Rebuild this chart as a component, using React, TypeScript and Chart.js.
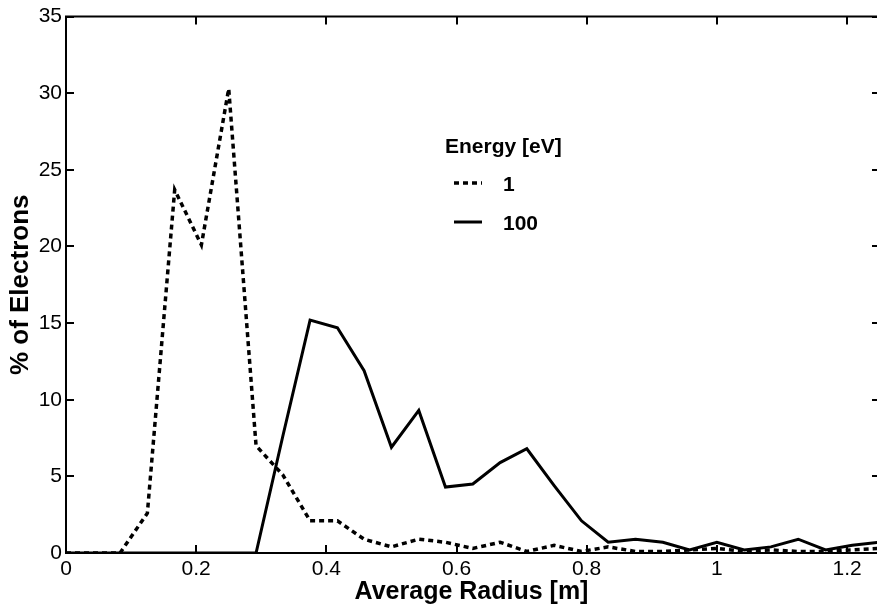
import React, { useEffect, useRef } from "react";
import { Chart, registerables } from "chart.js";

Chart.register(...registerables);

const radius = [
  0, 0.042, 0.083, 0.125, 0.167, 0.208, 0.25, 0.292, 0.333, 0.375, 0.417,
  0.458, 0.5, 0.542, 0.583, 0.625, 0.667, 0.708, 0.75, 0.792, 0.833, 0.875,
  0.917, 0.958, 1.0, 1.042, 1.083, 1.125, 1.167, 1.208, 1.25,
];
const energy1 = [
  0, 0, 0, 2.6, 23.7, 20.1, 30.3, 7.0, 5.1, 2.1, 2.1, 0.9, 0.4, 0.9, 0.7, 0.3,
  0.7, 0.1, 0.5, 0.1, 0.4, 0.1, 0.1, 0.2, 0.3, 0.1, 0.2, 0.1, 0.1, 0.2, 0.3,
];
const energy100 = [
  0, 0, 0, 0, 0, 0, 0, 0, 7.6, 15.2, 14.7, 11.9, 6.9, 9.3, 4.3, 4.5, 5.9, 6.8,
  4.4, 2.1, 0.7, 0.9, 0.7, 0.2, 0.7, 0.2, 0.4, 0.9, 0.2, 0.5, 0.7,
];
const seriesLabels = ["1", "100"];
const legendTitle = "Energy [eV]";
const xTicks = [0, 0.2, 0.4, 0.6, 0.8, 1, 1.2];
const xTickLabels = ["0", "0.2", "0.4", "0.6", "0.8", "1", "1.2"];
const yTicks = [0, 5, 10, 15, 20, 25, 30, 35];
const yTickLabels = ["0", "5", "10", "15", "20", "25", "30", "35"];

const FONT = "'Liberation Sans', Arial, Helvetica, sans-serif";

const framePlugin = {
  id: "frame",
  afterDraw(chart: any) {
    const { ctx, chartArea, scales } = chart;
    const { left, right, top, bottom } = chartArea;
    const x = scales.x;
    const y = scales.y;
    ctx.save();
    ctx.strokeStyle = "#000";
    ctx.lineWidth = 2;
    ctx.lineCap = "butt";
    ctx.beginPath();
    ctx.moveTo(left - 1, top);
    ctx.lineTo(right, top);
    const L = 8;
    x.ticks.forEach((t: any) => {
      const px = Math.round(x.getPixelForValue(t.value));
      ctx.moveTo(px, bottom);
      ctx.lineTo(px, bottom - L);
      ctx.moveTo(px, top);
      ctx.lineTo(px, top + L);
    });
    y.ticks.forEach((t: any) => {
      const py = Math.round(y.getPixelForValue(t.value));
      ctx.moveTo(left, py);
      ctx.lineTo(left + L, py);
      ctx.moveTo(right - 5, py);
      ctx.lineTo(right, py);
    });
    ctx.stroke();

    // legend
    const lx = 445;
    ctx.fillStyle = "#000";
    ctx.textBaseline = "alphabetic";
    ctx.textAlign = "left";
    ctx.font = `bold 21px ${FONT}`;
    ctx.fillText(legendTitle, lx, 153);
    const rows = [183, 222];
    chart.data.datasets.forEach((ds: any, i: number) => {
      const yy = rows[i];
      ctx.beginPath();
      ctx.lineWidth = ds.borderWidth;
      ctx.setLineDash(ds.borderDash || []);
      ctx.moveTo(454, yy);
      ctx.lineTo(482, yy);
      ctx.stroke();
      ctx.setLineDash([]);
      ctx.fillText(ds.label, 503, yy + 8);
    });
    ctx.restore();
  },
};

export default function App() {
  const ref = useRef<HTMLCanvasElement>(null);
  useEffect(() => {
    document.body.style.margin = "0";
    const canvas = ref.current!;
    const chart = new Chart(canvas, {
      type: "line",
      data: {
        datasets: [
          {
            label: seriesLabels[0],
            data: radius.map((r, i) => ({ x: r, y: energy1[i] })),
            borderColor: "#000",
            borderWidth: 3.5,
            borderDash: [5, 4],
            pointRadius: 0,
            tension: 0,
            fill: false,
          },
          {
            label: seriesLabels[1],
            data: radius.map((r, i) => ({ x: r, y: energy100[i] })),
            borderColor: "#000",
            borderWidth: 3,
            pointRadius: 0,
            tension: 0,
            fill: false,
          },
        ],
      },
      options: {
        animation: false,
        responsive: false,
        layout: { padding: { top: 16, right: 0, left: 0, bottom: 0 } },
        plugins: {
          legend: { display: false },
          tooltip: { enabled: false },
        },
        scales: {
          x: {
            type: "linear",
            min: 0,
            max: 1.246,
            grid: { display: false, drawTicks: false, tickLength: 0 },
            border: { display: true, color: "#000", width: 2 },
            afterBuildTicks: (s: any) => {
              s.ticks = xTicks.map((v) => ({ value: v }));
            },
            afterFit: (s: any) => {
              s.height = 54;
            },
            ticks: {
              color: "#000",
              padding: 4,
              maxRotation: 0,
              autoSkip: false,
              font: { family: FONT, size: 21 },
              callback: (v: any) => xTickLabels[xTicks.indexOf(Number(v))] ?? "",
            },
            title: {
              display: true,
              text: "Average Radius [m]",
              color: "#000",
              font: { family: FONT, size: 25, weight: "bold" },
              padding: { top: 0, bottom: 0 },
            },
          },
          y: {
            type: "linear",
            min: 0,
            max: 35,
            grid: { display: false, drawTicks: false, tickLength: 0 },
            border: { display: true, color: "#000", width: 2 },
            afterBuildTicks: (s: any) => {
              s.ticks = yTicks.map((v) => ({ value: v }));
            },
            afterFit: (s: any) => {
              s.width = 66;
            },
            ticks: {
              color: "#000",
              padding: 4,
              autoSkip: false,
              font: { family: FONT, size: 21 },
              callback: (v: any) => yTickLabels[yTicks.indexOf(Number(v))] ?? "",
            },
            title: {
              display: true,
              text: "% of Electrons",
              color: "#000",
              font: { family: FONT, size: 26, weight: "bold" },
              padding: { top: 5, bottom: 0 },
            },
          },
        },
      },
      plugins: [framePlugin],
    });
    return () => chart.destroy();
  }, []);
  return (
    <div>
      <canvas ref={ref} width={877} height={607} style={{ display: "block" }} />
    </div>
  );
}
